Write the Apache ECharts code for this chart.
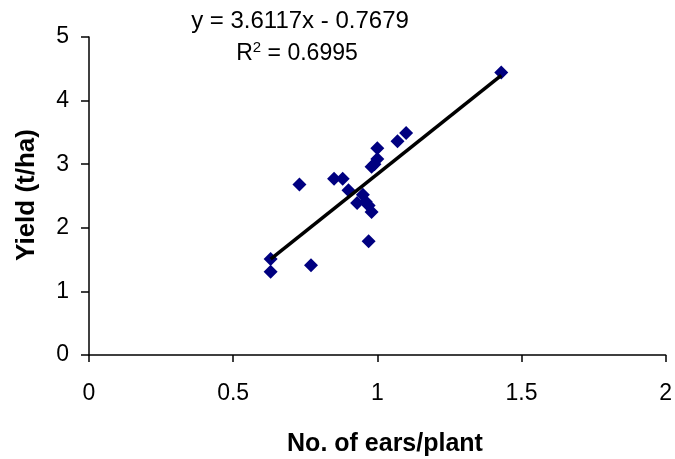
<!DOCTYPE html>
<html>
<head>
<meta charset="utf-8">
<script src="https://cdn.jsdelivr.net/npm/echarts@6/dist/echarts.min.js"></script>
<style>html,body{margin:0;padding:0;background:#fff;}#main{width:675px;height:459px;}</style>
</head>
<body>
<div id="main"></div>
<script>
// ears per plant vs yield (t/ha)
var ears = [0.63, 0.63, 0.77, 0.73, 0.85, 0.88, 0.90, 0.95, 0.93, 0.96, 0.97, 0.98, 0.97, 0.98, 0.99, 1.00, 1.00, 1.07, 1.10, 1.43];
var yieldV = [1.51, 1.31, 1.41, 2.68, 2.77, 2.77, 2.59, 2.52, 2.39, 2.41, 2.35, 2.25, 1.79, 2.96, 3.00, 3.08, 3.25, 3.36, 3.49, 4.44];
var slope = 3.6117, intercept = -0.7679, r2 = 0.6995;

var pts = [];
for (var i = 0; i < ears.length; i++) pts.push([ears[i], yieldV[i]]);
var xmin = Math.min.apply(null, ears), xmax = Math.max.apply(null, ears);
var fit = [[xmin, slope * xmin + intercept], [xmax, slope * xmax + intercept]];

var font = 'Liberation Sans, Arial, sans-serif';
var chart = echarts.init(document.getElementById('main'));
chart.setOption({
	animation: false,
	grid: {left: 89, right: 9, top: 37, bottom: 104},
	xAxis: {
		type: 'value', min: 0, max: 2, interval: 0.5,
		axisLine: {lineStyle: {color: '#000', width: 1.5}},
		axisTick: {lineStyle: {color: '#000', width: 1.5}, length: 7},
		axisLabel: {color: '#000', fontFamily: font, fontSize: 23, margin: 27},
		splitLine: {show: false}
	},
	yAxis: {
		type: 'value', min: 0, max: 5, interval: 1,
		axisLine: {lineStyle: {color: '#000', width: 1.5}},
		axisTick: {lineStyle: {color: '#000', width: 1.5}, length: 8},
		axisLabel: {color: '#000', fontFamily: font, fontSize: 23, margin: 20},
		splitLine: {show: false}
	},
	series: [
		{
			type: 'line', data: fit, symbol: 'none', z: 3,
			lineStyle: {color: '#000', width: 3.5}
		},
		{
			type: 'scatter', data: pts, symbol: 'diamond', symbolSize: [14, 14], z: 2,
			itemStyle: {color: '#000080', opacity: 1}
		}
	],
	graphic: [
		{type: 'text', x: 300, y: 21, style: {text: 'y = ' + slope + 'x - ' + Math.abs(intercept), font: '24px ' + font, fill: '#000', textAlign: 'center', textVerticalAlign: 'middle'}},
		{type: 'text', x: 297, y: 53, style: {
			text: '{a|R}{s|2}{a| = ' + r2 + '}',
			textAlign: 'center', textVerticalAlign: 'middle',
			rich: {
				a: {font: '23px ' + font, fill: '#000', verticalAlign: 'bottom'},
				s: {font: '15px ' + font, fill: '#000', verticalAlign: 'top', padding: [0, 0, 10, 0]}
			}
		}},
		{type: 'text', x: 385, y: 444, style: {text: 'No. of ears/plant', font: 'bold 25px ' + font, fill: '#000', textAlign: 'center', textVerticalAlign: 'middle'}},
		{type: 'text', x: 27, y: 195, rotation: Math.PI / 2, style: {text: 'Yield (t/ha)', font: 'bold 26px ' + font, fill: '#000', textAlign: 'center', textVerticalAlign: 'middle'}}
	]
});
</script>
</body>
</html>
